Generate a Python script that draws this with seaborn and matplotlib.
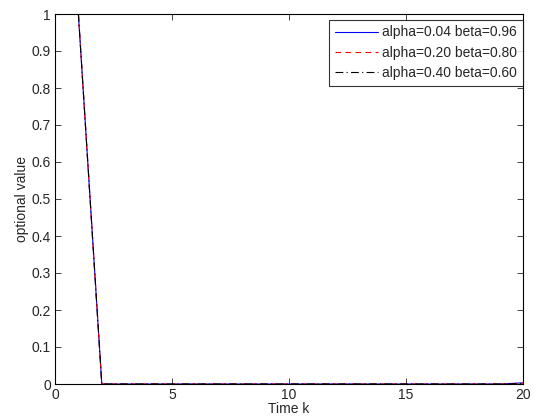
import numpy as np
import pandas as pd
import seaborn as sns
import matplotlib
matplotlib.use("Agg")
import matplotlib.pyplot as plt

# time steps and optional values
time_k = list(range(1, 21))
val_a04 = [1.0, 0.0, 0.0, 0.0, 0.0, 0.0, 0.0, 0.0, 0.0, 0.0,
           0.0, 0.0, 0.0, 0.0, 0.0, 0.0, 0.0, 0.0, 0.0, 0.003]
val_a20 = [1.0, 0.0, 0.0, 0.0, 0.0, 0.0, 0.0, 0.0, 0.0, 0.0,
           0.0, 0.0, 0.0, 0.0, 0.0, 0.0, 0.0, 0.0, 0.0, 0.002]
val_a40 = [1.0, 0.0, 0.0, 0.0, 0.0, 0.0, 0.0, 0.0, 0.0, 0.0,
           0.0, 0.0, 0.0, 0.0, 0.0, 0.0, 0.0, 0.0, 0.0, 0.001]
labels = ["alpha=0.04 beta=0.96", "alpha=0.20 beta=0.80", "alpha=0.40 beta=0.60"]

sns.set_style("ticks")
plt.rcParams["font.family"] = ["Liberation Sans", "DejaVu Sans"]
plt.rcParams["font.size"] = 10

fig = plt.figure(figsize=(5.38, 4.2), dpi=100)
ax = fig.add_axes([55 / 538, 1 - 384 / 420, 468 / 538, 370 / 420])

styles = [("blue", "-"), ("red", (0, (5, 4))), ("black", (0, (7, 3, 1, 3)))]
for vals, lab, (col, ls) in zip([val_a04, val_a20, val_a40], labels, styles):
    sns.lineplot(x=time_k, y=vals, ax=ax, color=col, linestyle=ls,
                 linewidth=0.8, label=lab)

ax.set_xlim(0, 20)
ax.set_ylim(0, 1)
ax.set_xticks([0, 5, 10, 15, 20])
ax.set_yticks(np.arange(0, 1.01, 0.1))
ax.set_yticklabels(["0", "0.1", "0.2", "0.3", "0.4", "0.5", "0.6", "0.7", "0.8", "0.9", "1"])
ax.tick_params(direction="in", top=True, right=True, length=4, width=0.6,
               labelsize=10, pad=3)
for s in ax.spines.values():
    s.set_linewidth(0.8)
    s.set_color("black")
ax.set_xlabel("Time k", fontsize=10, labelpad=0)
ax.set_ylabel("optional value", fontsize=10, labelpad=2)

leg = ax.legend(loc="upper right", bbox_to_anchor=(1.0, 0.984), fontsize=10,
                frameon=True, fancybox=False, edgecolor="black",
                handlelength=3.1, borderpad=0.4, labelspacing=0.45,
                handletextpad=0.35, borderaxespad=0.0)
leg.get_frame().set_linewidth(0.8)

fig.savefig("out.png", dpi=100)
